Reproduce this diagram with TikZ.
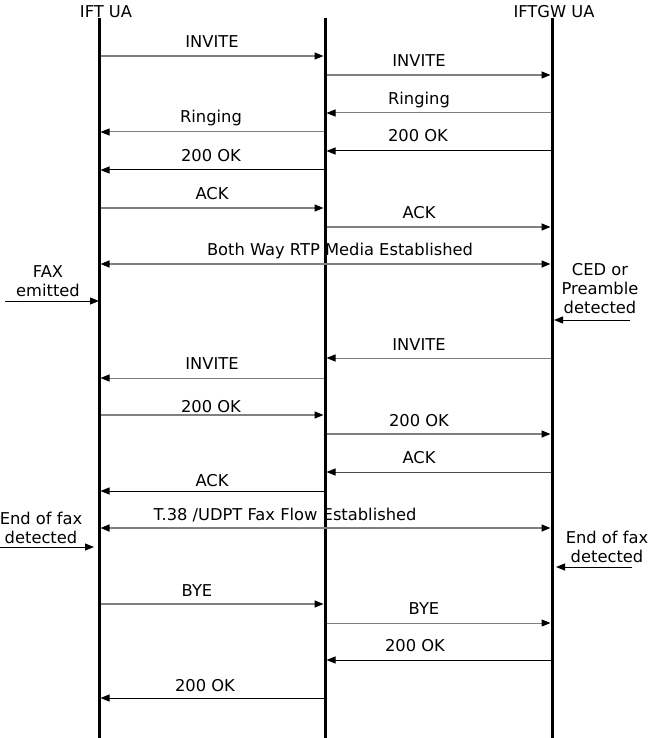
\documentclass[tikz,border=0pt]{standalone}
\usepackage{fontspec}
\setmainfont{DejaVu Sans}
\usetikzlibrary{arrows.meta}
\begin{document}
\begin{tikzpicture}[x=1pt,y=-1pt,
  life/.style={line width=3pt,black},
  tipk/.style={-{Triangle[length=9pt,width=7pt,color=black]}},
  msg/.style={tipk,line width=1.4pt,black!50,shorten >=1.5pt,shorten <=1.5pt},
  msgk/.style={tipk,line width=1pt,black,shorten >=1.5pt,shorten <=1.5pt},
  both/.style={{Triangle[length=9pt,width=7pt,color=black]}-{Triangle[length=9pt,width=7pt,color=black]},line width=1.4pt,black!50,shorten >=1.5pt,shorten <=1.5pt},
  side/.style={tipk,line width=1pt,black},
  lbl/.style={anchor=base,inner sep=0pt,font=\fontsize{16.3}{19}\selectfont},
  note/.style={align=center,inner sep=0pt,font=\fontsize{16.3}{19}\selectfont}]
\useasboundingbox (0,0) rectangle (650,738);
% lifelines
\coordinate (At) at (99,18);  \coordinate (Ab) at (99,738);
\coordinate (Bt) at (325,18); \coordinate (Bb) at (325,738);
\coordinate (Ct) at (552,18); \coordinate (Cb) at (552,738);
\draw[life] (At) -- (Ab);
\draw[life] (Bt) -- (Bb);
\draw[life] (Ct) -- (Cb);
\node[lbl] (hA) at (106,18) {IFT UA};
\node[lbl] (hC) at (554,18) {IFTGW UA};
% message rows
\foreach \n/\y in {1/56,2/75,3/113,4/132,5/151,6/170,7/208,8/227,9/264,10/358,11/378,12/415,13/434,14/472,15/491,16/528,17/604,18/623,19/660,20/698}
  \coordinate (m\n) at (0,\y);
\draw[msg]  (At |- m1) -- (Bt |- m1);
\draw[msg]  (Bt |- m2) -- (Ct |- m2);
\draw[msg,line width=1pt]  (Ct |- m3) -- (Bt |- m3);
\draw[msg,line width=1pt]  (Bt |- m4) -- (At |- m4);
\draw[msgk] (Ct |- m5) -- (Bt |- m5);
\draw[msgk] (Bt |- m6) -- (At |- m6);
\draw[msg]  (At |- m7) -- (Bt |- m7);
\draw[msg]  (Bt |- m8) -- (Ct |- m8);
\draw[both] (At |- m9) -- (Ct |- m9);
\draw[msg,line width=1pt]  (Ct |- m10) -- (Bt |- m10);
\draw[msg,line width=1pt]  (Bt |- m11) -- (At |- m11);
\draw[msg]  (At |- m12) -- (Bt |- m12);
\draw[msg]  (Bt |- m13) -- (Ct |- m13);
\draw[msg,black!70,line width=1pt] (Ct |- m14) -- (Bt |- m14);
\draw[msgk] (Bt |- m15) -- (At |- m15);
\draw[both] (At |- m16) -- (Ct |- m16);
\draw[msg]  (At |- m17) -- (Bt |- m17);
\draw[msg,line width=1pt]  (Bt |- m18) -- (Ct |- m18);
\draw[msgk] (Ct |- m19) -- (Bt |- m19);
\draw[msgk] (Bt |- m20) -- (At |- m20);
% labels
\node[lbl] (l1)  at (212,48)  {INVITE};
\node[lbl] (l2)  at (419,67)  {INVITE};
\node[lbl] (l3)  at (419,105) {Ringing};
\node[lbl] (l4)  at (211,123) {Ringing};
\node[lbl] (l5)  at (418,142) {200 OK};
\node[lbl] (l6)  at (211,161) {200 OK};
\node[lbl] (l7)  at (212,199) {ACK};
\node[lbl] (l8)  at (419,218) {ACK};
\node[lbl] (l9)  at (340,255) {Both Way RTP Media Established};
\node[lbl] (l10) at (419,350) {INVITE};
\node[lbl] (l11) at (212,369) {INVITE};
\node[lbl] (l12) at (211,412) {200 OK};
\node[lbl] (l13) at (419,426) {200 OK};
\node[lbl] (l14) at (419,463) {ACK};
\node[lbl] (l15) at (212,486) {ACK};
\node[lbl] (l16) at (285,520) {T.38 /UDPT Fax Flow Established};
\node[lbl] (l17) at (197,596) {BYE};
\node[lbl] (l18) at (424,614) {BYE};
\node[lbl] (l19) at (415,651) {200 OK};
\node[lbl] (l20) at (205,691) {200 OK};
% side notes
\node[note] (fax) at (48,281) {FAX\\emitted};
\coordinate (faxs) at (5,301);
\draw[side] (faxs) -- (At |- faxs);
\node[note] (ced) at (600,289) {CED or\\Preamble\\detected};
\coordinate (ceds) at (630,320);
\draw[side] (ceds) -- ([xshift=2pt]Ct |- ceds);
\node[note] (eofl) at (41,527.5) {End of fax\\detected};
\coordinate (eofls) at (0,547);
\coordinate (eofle) at (94,547);
\draw[side] (eofls) -- (eofle);
\node[note] (eofr) at (607,546.5) {End of fax\\detected};
\coordinate (eofrs) at (632,567);
\coordinate (eofre) at (556,567);
\draw[side] (eofrs) -- (eofre);
\end{tikzpicture}
\end{document}
